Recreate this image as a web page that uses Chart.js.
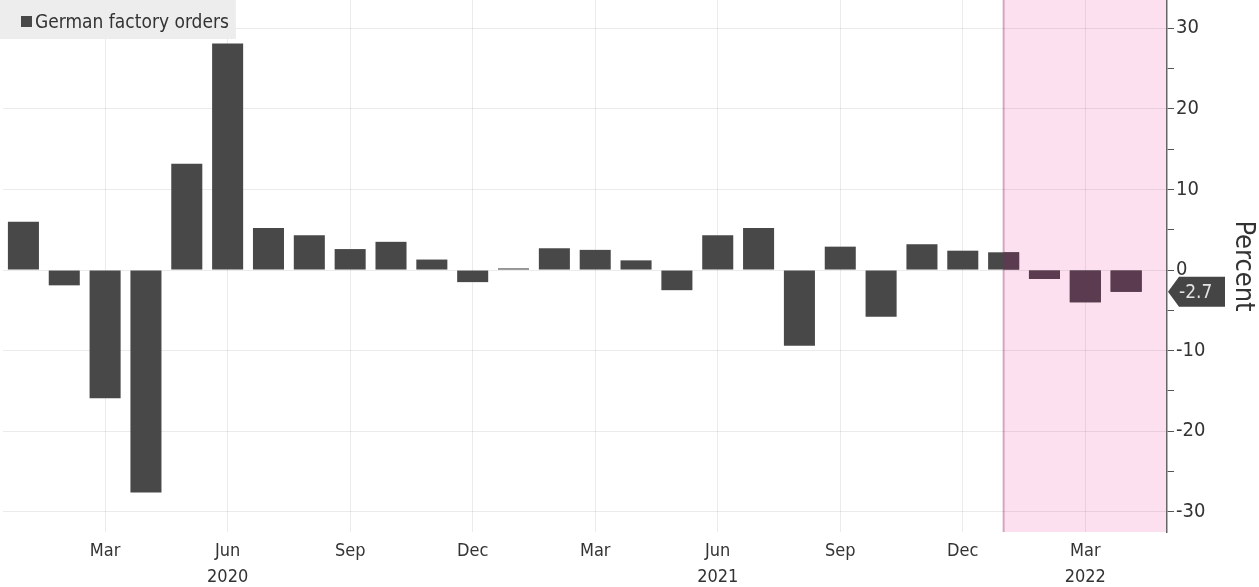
<!DOCTYPE html>
<html>
<head>
<meta charset="utf-8">
<title>German factory orders</title>
<script src="https://cdn.jsdelivr.net/npm/chart.js@4"></script>
<style>
    html, body { margin: 0; padding: 0; background: #ffffff; }
    #wrap { width: 1259px; height: 587px; position: relative; }
</style>
</head>
<body>
<div id="wrap"><canvas id="chart1"></canvas></div>
<script>
//------------------------------------------- Data -------------------------------------------//
// one bar per month, Jan 2020 .. Apr 2022 (month on month change, percent)
const months = ['Jan 2020', 'Feb 2020', 'Mar 2020', 'Apr 2020', 'May 2020', 'Jun 2020',
    'Jul 2020', 'Aug 2020', 'Sep 2020', 'Oct 2020', 'Nov 2020', 'Dec 2020',
    'Jan 2021', 'Feb 2021', 'Mar 2021', 'Apr 2021', 'May 2021', 'Jun 2021',
    'Jul 2021', 'Aug 2021', 'Sep 2021', 'Oct 2021', 'Nov 2021', 'Dec 2021',
    'Jan 2022', 'Feb 2022', 'Mar 2022', 'Apr 2022'];
const orders = [6.0, -1.9, -15.9, -27.6, 13.2, 28.1, 5.2, 4.3, 2.6, 3.5, 1.3, -1.5,
    0.2, 2.7, 2.5, 1.2, -2.5, 4.3, 5.2, -9.4, 2.9, -5.8, 3.2, 2.4,
    2.2, -1.1, -4.0, -2.7];

// x tick labels, placed on the month index they belong to
const tick_months = [2, 5, 8, 11, 14, 17, 20, 23, 26];
const tick_labels = ['Mar', ['Jun', '2020'], 'Sep', 'Dec', 'Mar', ['Jun', '2021'], 'Sep', 'Dec', ['Mar', '2022']];

const series_name = 'German factory orders';
const shade_from = 24;          // shaded period starts at Jan 2022
const last_label = '-2.7';

//------------------------------------------- Settings -------------------------------------------//
const font_family = "'DejaVu Sans Condensed', 'Liberation Sans Narrow', 'DejaVu Sans', sans-serif";
const bar_color = '#484848';
const bar_shaded_color = '#5b3b4f';
const shade_color = '#fde0f0';
const shade_edge = '#d6a6c0';
const grid_color = 'rgba(0,0,0,0.08)';
const text_color = '#333333';

//------------------------------------------- Plugins -------------------------------------------//

// pink background for the highlighted period
var shadePlugin = {
    id: 'shade',
    beforeDraw: function(chart) {
        var ctx = chart.ctx;
        var area = chart.chartArea;
        var x0 = chart.scales.x.getPixelForValue(shade_from);
        ctx.save();
        ctx.fillStyle = shade_color;
        ctx.fillRect(x0, area.top, area.right - x0, area.bottom - area.top);
        ctx.strokeStyle = shade_edge;
        ctx.lineWidth = 2;
        ctx.beginPath();
        ctx.moveTo(x0, area.top);
        ctx.lineTo(x0, area.bottom);
        ctx.stroke();
        ctx.restore();
    },
    afterDatasetsDraw: function(chart) {
        // bars inside the shaded period get a tinted colour
        var ctx = chart.ctx;
        var area = chart.chartArea;
        var x0 = chart.scales.x.getPixelForValue(shade_from);
        var meta = chart.getDatasetMeta(0);
        ctx.save();
        ctx.beginPath();
        ctx.rect(x0, area.top, area.right - x0, area.bottom - area.top);
        ctx.clip();
        ctx.fillStyle = bar_shaded_color;
        meta.data.forEach(function(bar) {
            var top = Math.min(bar.y, bar.base);
            ctx.fillRect(bar.x - bar.width / 2, top, bar.width, Math.abs(bar.base - bar.y));
        });
        ctx.restore();
    }
};

// legend box in the top left corner, over the plot
var legendBoxPlugin = {
    id: 'legendBox',
    afterDraw: function(chart) {
        var ctx = chart.ctx;
        ctx.save();
        ctx.font = '19px ' + font_family;
        var w = ctx.measureText(series_name).width;
        ctx.fillStyle = 'rgba(236,236,236,0.95)';
        ctx.fillRect(0, 0, 42 + w, 39);
        ctx.fillStyle = bar_color;
        ctx.fillRect(21, 16, 11, 11);
        ctx.fillStyle = text_color;
        ctx.textBaseline = 'alphabetic';
        ctx.fillText(series_name, 35, 28);
        ctx.restore();
    }
};

// arrow tag with the last value on the right axis
var lastValuePlugin = {
    id: 'lastValue',
    afterDraw: function(chart) {
        var ctx = chart.ctx;
        var y_scale = chart.scales.y;
        var y = y_scale.getPixelForValue(orders[orders.length - 1]);
        var x = y_scale.left + 1;
        ctx.save();
        ctx.fillStyle = '#454545';
        ctx.beginPath();
        ctx.moveTo(x, y);
        ctx.lineTo(x + 11, y - 15);
        ctx.lineTo(x + 57, y - 15);
        ctx.lineTo(x + 57, y + 15);
        ctx.lineTo(x + 11, y + 15);
        ctx.closePath();
        ctx.fill();
        ctx.fillStyle = '#e4e4e4';
        ctx.font = '19px ' + font_family;
        ctx.textBaseline = 'middle';
        ctx.fillText(last_label, x + 11, y + 1);
        ctx.restore();
    }
};

//------------------------------------------- Chart -------------------------------------------//

function createChart(canvasId) {
    var ctx = document.getElementById(canvasId);
    var points = orders.map(function(v, i) { return { x: i, y: v }; });
    return new Chart(ctx, {
        type: 'bar',
        data: {
            datasets: [{
                label: series_name,
                data: points,
                backgroundColor: bar_color,
                borderWidth: 0,
                barPercentage: 0.76,
                categoryPercentage: 1.0
            }]
        },
        options: {
            responsive: true,
            maintainAspectRatio: false,
            animation: false,
            layout: { padding: { left: 3, top: 0, right: 0, bottom: 0 } },
            plugins: {
                legend: { display: false },
                tooltip: { enabled: false }
            },
            scales: {
                x: {
                    type: 'linear',
                    min: -0.5,
                    max: 28,
                    offset: false,
                    afterBuildTicks: function(scale) {
                        scale.ticks = tick_months.map(function(v) { return { value: v }; });
                    },
                    afterFit: function(scale) {
                        scale.height = 55;
                        scale.paddingLeft = 0;
                        scale.paddingRight = 0;
                    },
                    grid: {
                        color: grid_color,
                        drawTicks: false,
                        offset: false
                    },
                    border: { display: false },
                    ticks: {
                        autoSkip: false,
                        maxRotation: 0,
                        padding: 6,
                        color: text_color,
                        font: { family: font_family, size: 18, lineHeight: '26px' },
                        callback: function(value) {
                            var k = tick_months.indexOf(value);
                            return k >= 0 ? tick_labels[k] : '';
                        }
                    }
                },
                y: {
                    position: 'right',
                    min: -32.5,
                    max: 33.5,
                    afterFit: function(scale) {
                        scale.width = 92;
                        scale.paddingTop = 0;
                        scale.paddingBottom = 0;
                    },
                    border: { display: true, color: '#666666', width: 1.5 },
                    grid: {
                        color: function(c) {
                            return (c.tick && c.tick.value % 10 === 0) ? grid_color : 'rgba(0,0,0,0)';
                        },
                        tickColor: '#555555',
                        tickLength: 7
                    },
                    ticks: {
                        stepSize: 5,
                        includeBounds: false,
                        padding: 2,
                        color: text_color,
                        font: { family: font_family, size: 20 },
                        callback: function(value) {
                            return value % 10 === 0 ? String(value) : '';
                        }
                    },
                    title: {
                        display: true,
                        text: 'Percent',
                        color: text_color,
                        font: { family: font_family, size: 27 },
                        padding: { top: 0, bottom: 0 }
                    }
                }
            }
        },
        plugins: [shadePlugin, legendBoxPlugin, lastValuePlugin]
    });
}

var chart1 = createChart('chart1');
</script>
</body>
</html>
